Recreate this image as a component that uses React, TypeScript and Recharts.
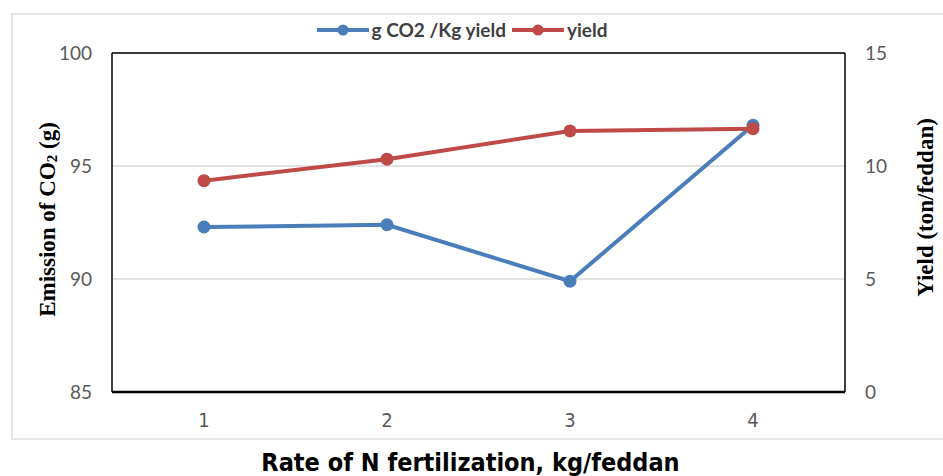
import React from 'react';
import { CartesianGrid, Label, Line, LineChart, ReferenceLine, XAxis, YAxis } from 'recharts';

// Values.
const rates = ['1', '2', '3', '4'];
const co2PerKg = [92.3, 92.4, 89.9, 96.8];
const yieldTon = [9.35, 10.3, 11.55, 11.65];
const leftTicks = [85, 90, 95, 100];
const rightTicks = [0, 5, 10, 15];

const BLUE = '#4a7ebb';
const RED = '#be4b48';
const TICK_GREY = '#595959';
const NARROW = '"Liberation Sans Narrow", "DejaVu Sans Condensed", sans-serif';
const SERIF = '"Liberation Serif", "DejaVu Serif", serif';

const seriesInfo = [
  { key: 'co2', name: 'g CO2 /Kg yield', color: BLUE },
  { key: 'yield', name: 'yield', color: RED },
];

const data = rates.map((rate, i) => ({ rate, co2: co2PerKg[i], yield: yieldTon[i] }));

const W = 943;
const H = 476;

function LegendRow(): JSX.Element {
  return (
    <div
      style={{
        position: 'absolute',
        top: 18,
        left: 0,
        width: 930,
        display: 'flex',
        justifyContent: 'center',
        alignItems: 'center',
        fontFamily: 'Lato, "Open Sans", sans-serif',
        fontWeight: 700,
        fontSize: 19,
        color: '#404040',
        pointerEvents: 'none',
      }}
    >
      {seriesInfo.map((s) => (
        <div key={s.key} style={{ display: 'flex', alignItems: 'center', marginRight: 6 }}>
          <svg width={52} height={14} style={{ marginRight: 3 }}>
            <line x1={0} y1={7} x2={52} y2={7} stroke={s.color} strokeWidth={4} />
            <circle cx={26} cy={7} r={5.5} fill={s.color} />
          </svg>
          <span>{s.name}</span>
        </div>
      ))}
    </div>
  );
}

export default function App(): JSX.Element {
  return (
    <div style={{ position: 'relative', width: W, height: H, background: '#fff', overflow: 'hidden' }}>
      <style>{'body{margin:0}'}</style>
      <div
        style={{
          position: 'absolute',
          left: 11,
          top: 13,
          width: 960,
          height: 423,
          border: '2px solid #e6e6e6',
        }}
      />
      <div style={{ position: 'absolute', left: 0, top: 0 }}>
        <LineChart width={W} height={H} data={data} margin={{ top: 53, right: 0, bottom: 0, left: 0 }}>
          <CartesianGrid vertical={false} stroke="#d9d9d9" strokeWidth={1.5} yAxisId="left" />
          <XAxis
            dataKey="rate"
            padding={{ left: 92, right: 92 }}
            axisLine={{ stroke: '#000', strokeWidth: 2.5 }}
            tickLine={false}
            tickSize={0}
            tickMargin={21}
            tick={{ fill: TICK_GREY, fontSize: 20, fontFamily: NARROW }}
            height={84}
          >
            <Label
              content={({ viewBox }: any) => (
                <text
                  x={viewBox.x + viewBox.width / 2 - 8}
                  y={462}
                  textAnchor="middle"
                  dominantBaseline="central"
                  fontFamily={NARROW}
                  fontWeight={700}
                  fontSize={25}
                  fill="#000"
                >
                  Rate of N fertilization, kg/feddan
                </text>
              )}
            />
          </XAxis>
          <YAxis
            yAxisId="left"
            width={112}
            domain={[85, 100]}
            ticks={leftTicks}
            axisLine={{ stroke: '#000', strokeWidth: 1.5 }}
            tickLine={false}
            tickSize={0}
            tickMargin={20}
            tick={{ fill: TICK_GREY, fontSize: 19, fontFamily: 'Lato, sans-serif' }}
          >
            <Label
              content={({ viewBox }: any) => {
                const cx = 47;
                const cy = viewBox.y + viewBox.height / 2 - 3;
                return (
                  <text
                    x={cx}
                    y={cy}
                    transform={`rotate(-90 ${cx} ${cy})`}
                    textAnchor="middle"
                    dominantBaseline="central"
                    fontFamily={SERIF}
                    fontWeight={700}
                    fontSize={23}
                    fill="#000"
                  >
                    Emission of CO
                    <tspan fontSize={15} dy={5}>2</tspan>
                    <tspan dy={-5}> (g)</tspan>
                  </text>
                );
              }}
            />
          </YAxis>
          <YAxis
            yAxisId="right"
            orientation="right"
            width={98}
            domain={[0, 15]}
            ticks={rightTicks}
            axisLine={{ stroke: '#000', strokeWidth: 1.5 }}
            tickLine={false}
            tickSize={0}
            tickMargin={20}
            tick={{ fill: TICK_GREY, fontSize: 19, fontFamily: 'Lato, sans-serif' }}
          >
            <Label
              content={({ viewBox }: any) => {
                const cx = 925;
                const cy = viewBox.y + viewBox.height / 2 - 15;
                return (
                  <text
                    x={cx}
                    y={cy}
                    transform={`rotate(-90 ${cx} ${cy})`}
                    textAnchor="middle"
                    dominantBaseline="central"
                    fontFamily={SERIF}
                    fontWeight={700}
                    fontSize={23}
                    fill="#000"
                  >
                    Yield (ton/feddan)
                  </text>
                );
              }}
            />
          </YAxis>
          <ReferenceLine yAxisId="left" y={100} stroke="#000" strokeWidth={1.5} />
          <Line
            yAxisId="left"
            dataKey="co2"
            name={seriesInfo[0].name}
            stroke={BLUE}
            strokeWidth={4}
            dot={{ r: 6.5, fill: BLUE, stroke: BLUE, strokeWidth: 0 }}
            isAnimationActive={false}
          />
          <Line
            yAxisId="right"
            dataKey="yield"
            name={seriesInfo[1].name}
            stroke={RED}
            strokeWidth={4}
            dot={{ r: 6.5, fill: RED, stroke: RED, strokeWidth: 0 }}
            isAnimationActive={false}
          />
        </LineChart>
      </div>
      <LegendRow />
    </div>
  );
}
